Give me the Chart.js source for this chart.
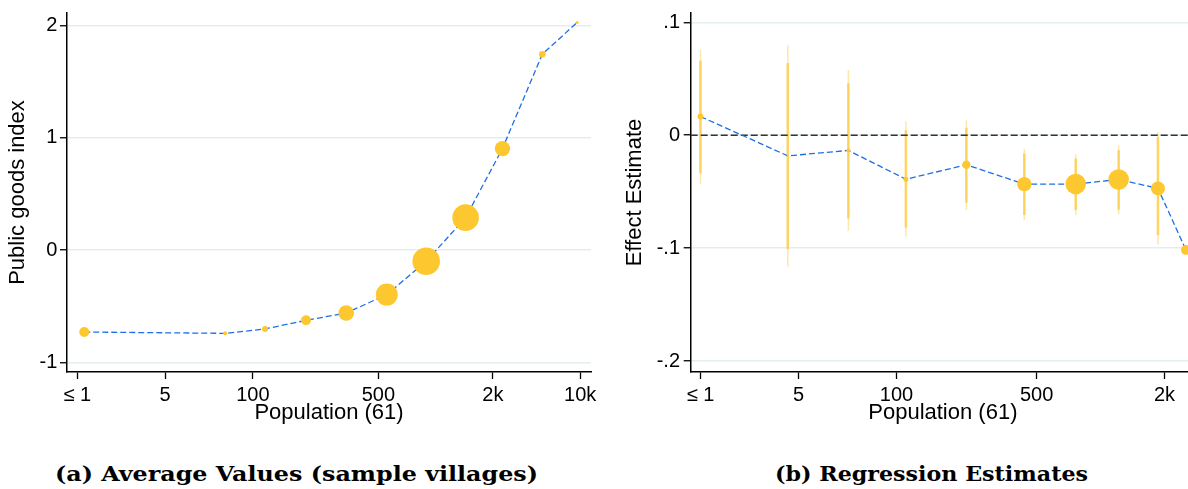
<!DOCTYPE html>
<html><head><meta charset="utf-8">
<script src="https://cdn.jsdelivr.net/npm/chart.js@4.4.1/dist/chart.umd.min.js"></script>
<style>
html,body{margin:0;padding:0;background:#fff;overflow:hidden;width:1188px;height:489px;}
#wrapA{position:absolute;left:0;top:0;width:600px;height:430px;}
#wrapB{position:absolute;left:600px;top:0;width:600px;height:430px;}
.cap{position:absolute;top:463px;font-family:"DejaVu Serif",serif;font-weight:bold;font-size:21px;line-height:21px;white-space:nowrap;color:#000;transform-origin:0 50%;}
</style></head><body>
<div id="wrapA"><canvas id="cA" width="600" height="430"></canvas></div>
<div id="wrapB"><canvas id="cB" width="600" height="430"></canvas></div>
<div class="cap" id="capA">(a) Average Values (sample villages)</div>
<div class="cap" id="capB">(b) Regression Estimates</div>
<script>
// ---------- data ----------
const xTickPos = [0, 1, 2, 3.43, 4.735, 5.73];
const xTickLabels = ["\u2264 1", "5", "100", "500", "2k", "10k"];

// panel (a): average public goods index by population bin
const avgX = [0.078, 1.684, 2.138, 2.605, 3.063, 3.526, 3.975, 4.424, 4.844, 5.298, 5.694];
const avgY = [-0.730, -0.742, -0.703, -0.626, -0.561, -0.397, -0.100, 0.288, 0.903, 1.743, 2.025];
const avgWeight = [25, 4, 9, 25, 61, 121, 190, 177, 59, 11, 2.25];
const avgYTicks = [-1, 0, 1, 2];
const avgYLabels = ["-1", "0", "1", "2"];

// panel (b): regression estimates with confidence intervals
const estX = [0, 0.891, 1.509, 2.096, 2.713, 3.304, 3.829, 4.267, 4.668, 4.954];
const est = [0.0165, -0.0183, -0.0135, -0.0390, -0.0262, -0.0433, -0.0433, -0.0392, -0.0471, -0.1017];
const estWeight = [9, 1, 4, 6.25, 17.6, 52, 106, 106, 49, 25];
const ciOuterLo = [-0.043, -0.1164, -0.0846, -0.0899, -0.0663, -0.0752, -0.0707, -0.0701, -0.0968, null];
const ciOuterHi = [0.076, 0.0796, 0.0575, 0.0124, 0.0133, -0.0121, -0.0168, -0.0088, 0.0030, null];
const ciInnerLo = [-0.034, -0.101, -0.0737, -0.082, -0.0595, -0.0707, -0.0663, -0.0657, -0.0884, null];
const ciInnerHi = [0.066, 0.064, 0.046, 0.0044, 0.0065, -0.0162, -0.0206, -0.0133, -0.0015, null];
const estYTicks = [-0.2, -0.1, 0, 0.1];
const estYLabels = ["-.2", "-.1", "0", ".1"];

// ---------- styles ----------
const FONT = "'Liberation Sans', Arial, sans-serif";
const YEL = '#FDC82F';
const BLUE = '#1E6FE6';
const GRID = '#e4eef0';

function xAxis(min, max, title) {
  return {
    type: 'linear', min, max, bounds: 'data', offset: false,
    afterBuildTicks: ax => { ax.ticks = xTickPos.filter(v => v >= min && v <= max).map(v => ({value: v})); },
    ticks: { autoSkip: false, maxRotation: 0, padding: 6.5, color: '#000',
      font: {family: FONT, size: 20, lineHeight: 1},
      callback: v => xTickLabels[xTickPos.indexOf(v)] },
    grid: { display: true, drawOnChartArea: false, drawTicks: true, tickLength: 7, tickColor: '#000', tickWidth: 1.3, offset: false },
    border: { display: true, color: '#000', width: 1.5 },
    title: { display: true, text: title, color: '#000', font: {family: FONT, size: 22, lineHeight: 1}, padding: {top: 0, bottom: 6} },
    afterFit: ax => { ax.height = 58; ax.paddingLeft = 0; ax.paddingRight = 0; }
  };
}
function yAxis(min, max, ticks, labels, width, title, titlePad, labelPad) {
  return {
    type: 'linear', min, max, bounds: 'data',
    afterBuildTicks: ax => { ax.ticks = ticks.map(v => ({value: v})); },
    ticks: { padding: labelPad, color: '#000', font: {family: FONT, size: 20, lineHeight: 1},
      callback: v => labels[ticks.indexOf(v)] },
    grid: { color: GRID, lineWidth: 1.5, drawTicks: true, tickLength: 7, tickColor: '#000', tickWidth: 1.3 },
    border: { display: true, color: '#000', width: 1.5 },
    title: { display: true, text: title, color: '#000', font: {family: FONT, size: 22, lineHeight: 1}, padding: {top: titlePad, bottom: 0} },
    afterFit: ax => { ax.width = width; ax.paddingTop = 0; ax.paddingBottom = 0; }
  };
}
const common = {
  responsive: false, animation: false, events: [],
  plugins: { legend: {display: false}, tooltip: {enabled: false} }
};

// ---------- panel (a) ----------
const ptsA = avgX.map((x, i) => ({x, y: avgY[i]}));
new Chart(document.getElementById('cA'), {
  type: 'line',
  data: { datasets: [
    { data: ptsA, showLine: false, pointRadius: avgWeight.map(Math.sqrt), pointBackgroundColor: YEL, pointBorderWidth: 0, order: 0 },
    { data: ptsA, borderColor: BLUE, borderWidth: 1.3, borderDash: [6, 3], pointRadius: 0, fill: false, tension: 0, order: 1 }
  ]},
  options: Object.assign({}, common, {
    layout: { padding: {left: 0, right: 9, top: 13, bottom: 0} },
    scales: {
      x: xAxis(-0.1186, 5.853, 'Population (61)'),
      y: yAxis(-1.086, 2.11, avgYTicks, avgYLabels, 67, 'Public goods index', 7, 2.7)
    }
  })
});

// ---------- panel (b) ----------
const ptsB = estX.map((x, i) => ({x, y: est[i]}));
function ciData(lo, hi) {
  const out = [];
  estX.forEach((x, i) => {
    if (lo[i] === null || hi[i] === null) return;
    out.push({x, y: lo[i]}, {x, y: hi[i]}, {x, y: null});
  });
  return out;
}
const xMinB = -0.0996, xMaxB = 5.046;
new Chart(document.getElementById('cB'), {
  type: 'line',
  data: { datasets: [
    { data: ptsB, showLine: false, pointRadius: estWeight.map(Math.sqrt), pointBackgroundColor: YEL, pointBorderWidth: 0, order: 0 },
    { data: ptsB, borderColor: BLUE, borderWidth: 1.3, borderDash: [6, 3], pointRadius: 0, fill: false, tension: 0, order: 1 },
    { data: [{x: xMinB, y: 0}, {x: xMaxB, y: 0}], borderColor: '#333', borderWidth: 1.6, borderDash: [7, 3], pointRadius: 0, fill: false, order: 2 },
    { data: ciData(ciInnerLo, ciInnerHi), borderColor: 'rgba(253,202,60,0.7)', borderWidth: 2.6, borderCapStyle: 'butt', pointRadius: 0, spanGaps: false, fill: false, order: 3 },
    { data: ciData(ciOuterLo, ciOuterHi), borderColor: 'rgba(253,212,100,0.55)', borderWidth: 1.5, borderCapStyle: 'butt', pointRadius: 0, spanGaps: false, fill: false, order: 4 }
  ]},
  options: Object.assign({}, common, {
    layout: { padding: {left: 0, right: 3, top: 13, bottom: 0} },
    scales: {
      x: xAxis(xMinB, xMaxB, 'Population (61)'),
      y: yAxis(-0.2097, 0.1082, estYTicks, estYLabels, 90.7, 'Effect Estimate', 23.5, 3.7)
    }
  })
});

// ---------- captions ----------
function fitCaption(id, targetWidth, centerX) {
  const el = document.getElementById(id);
  el.style.letterSpacing = '0px';
  el.style.transform = 'none';
  const w = el.getBoundingClientRect().width;
  const n = el.textContent.length;
  const s = Math.min(targetWidth / w, 1.16);
  const ls = (targetWidth / s - w) / (n - 1);
  el.style.letterSpacing = ls + 'px';
  el.style.transform = 'scaleX(' + s + ')';
  el.style.left = (centerX - targetWidth / 2) + 'px';
}
fitCaption('capA', 483, 296.5);
fitCaption('capB', 313, 931.5);
</script>
</body></html>
